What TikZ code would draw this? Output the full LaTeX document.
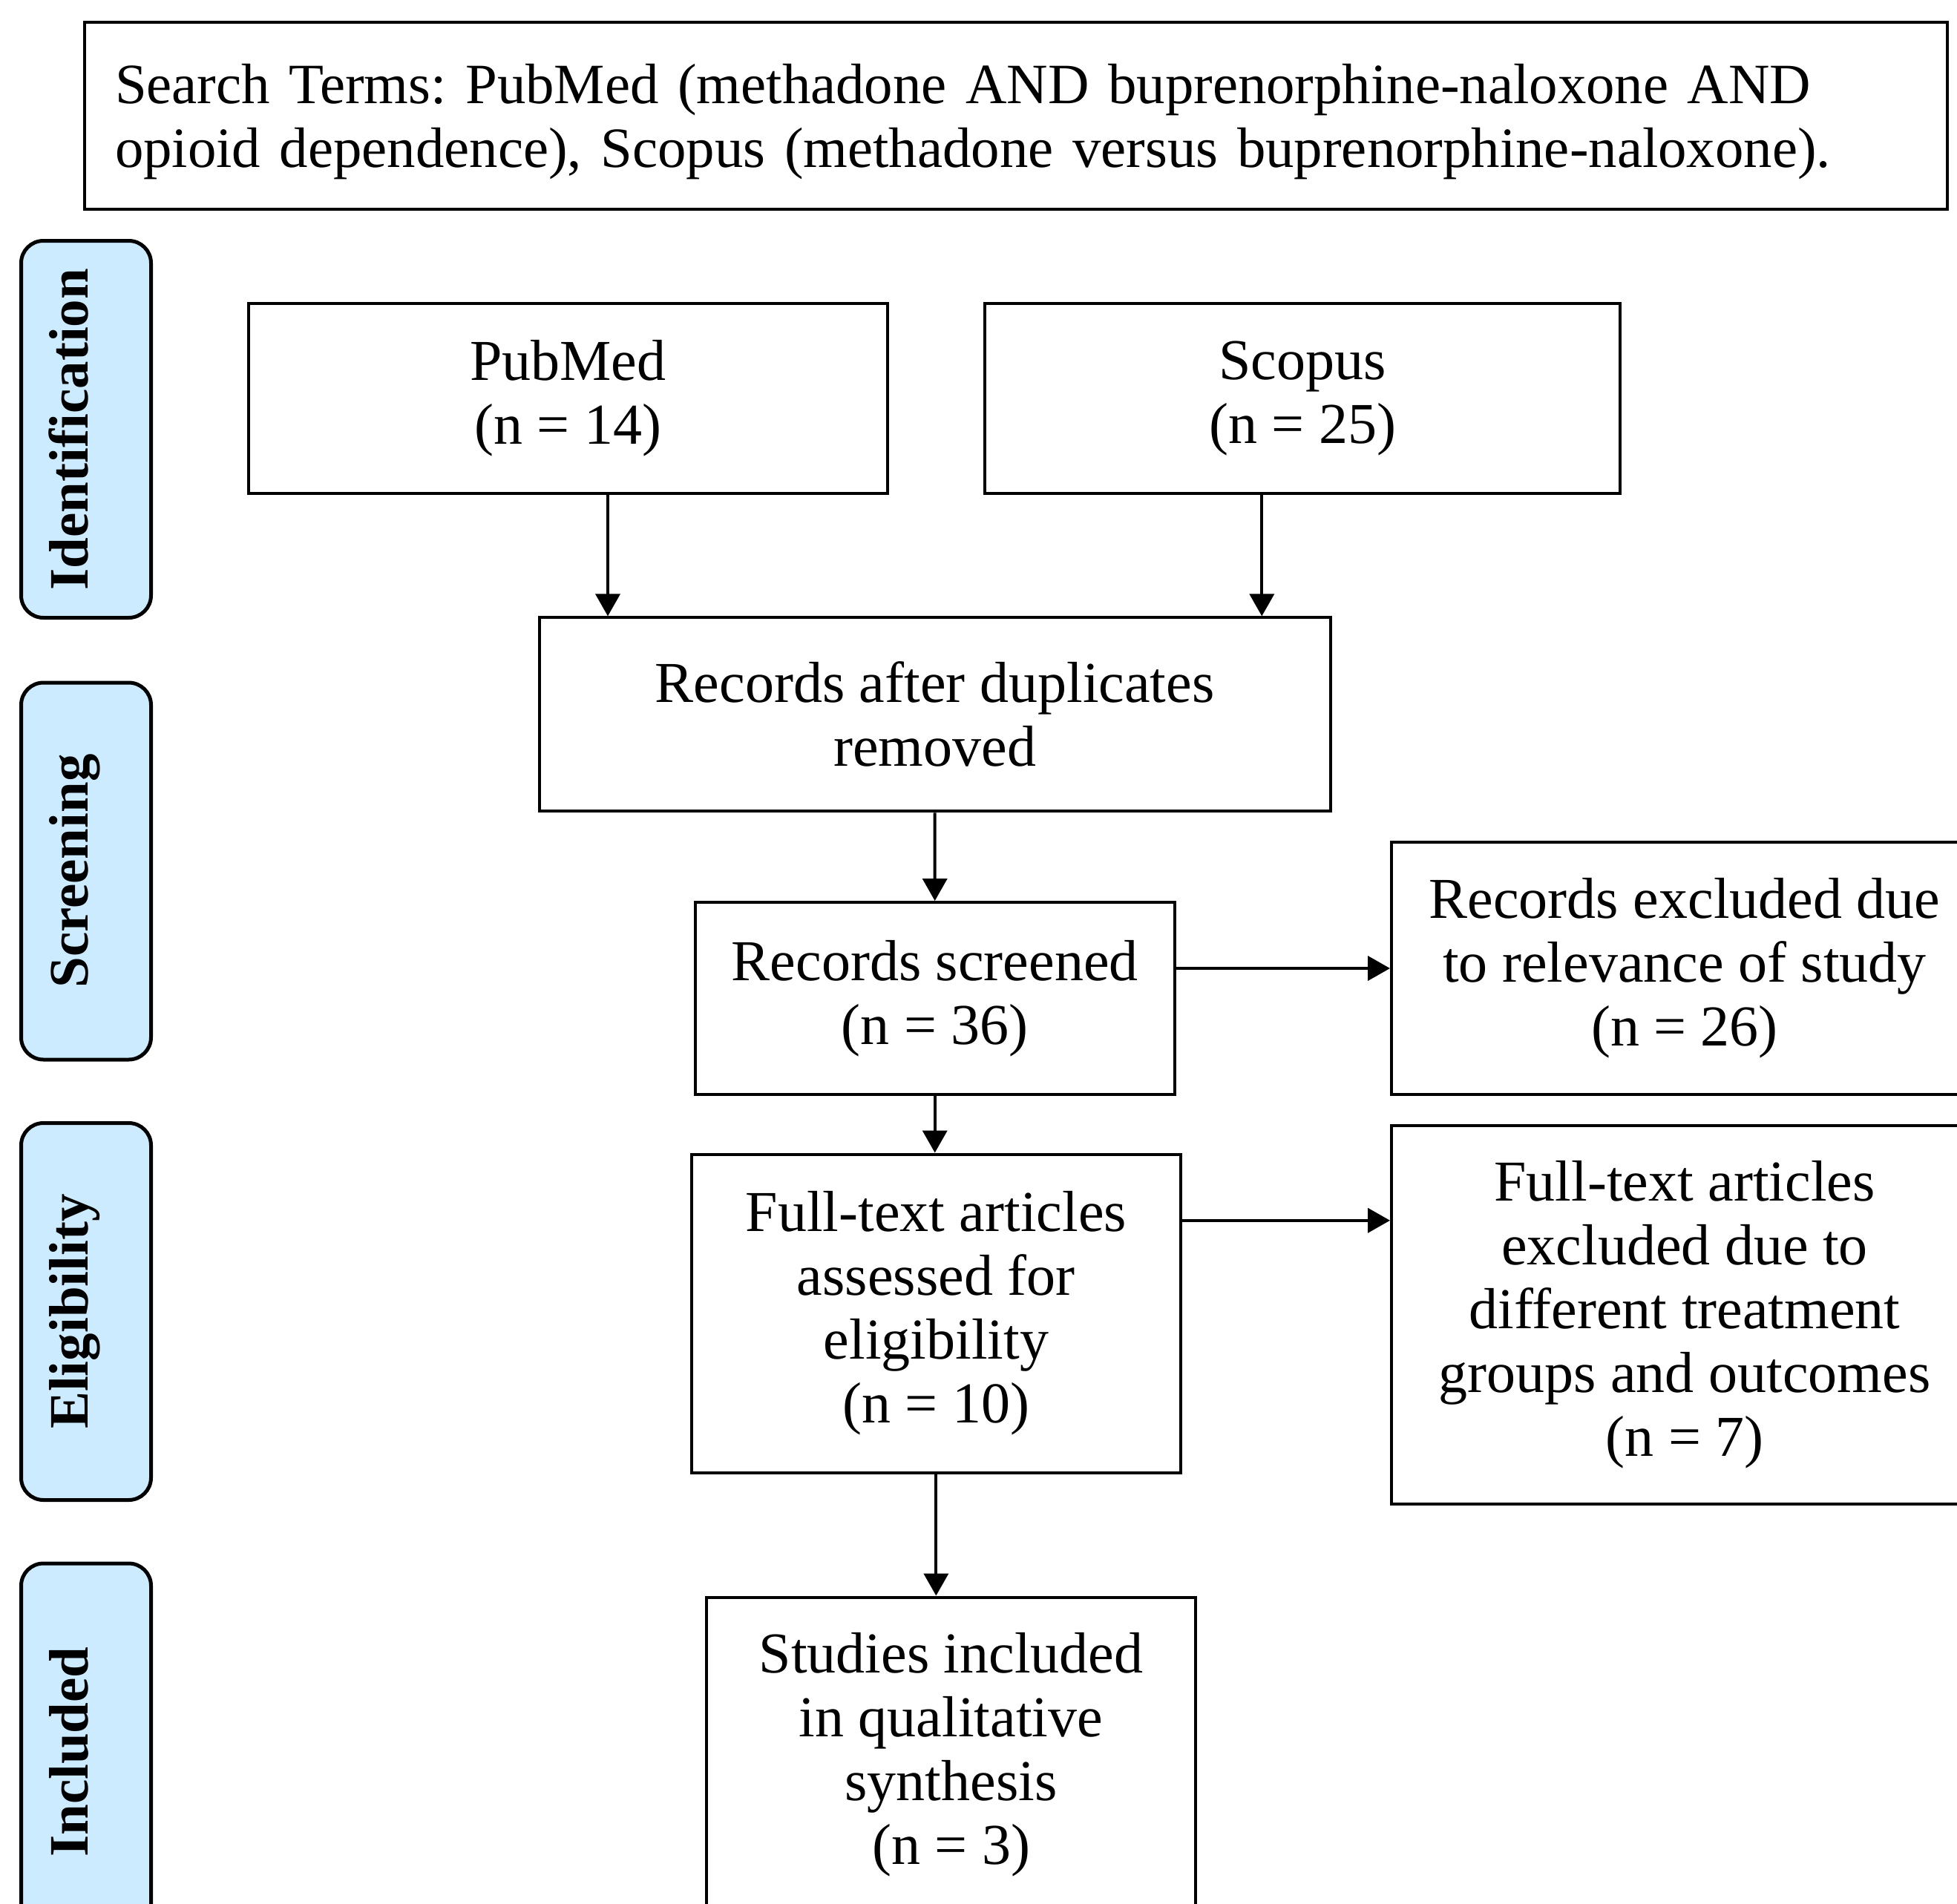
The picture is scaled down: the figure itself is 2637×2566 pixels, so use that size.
\documentclass[tikz,border=0pt]{standalone}
\usepackage{fontspec}
\setmainfont{Liberation Serif}
\usetikzlibrary{arrows.meta}
\definecolor{sideblue}{RGB}{204,235,255}
\begin{document}
\frenchspacing
\begin{tikzpicture}[x=1pt,y=-1pt,
  box/.style={draw, line width=4pt, align=center, inner sep=0pt, font=\fontsize{78}{86}\selectfont},
  side/.style={draw, line width=5pt, fill=sideblue, rounded corners=30pt, rotate=90,
    minimum width=508pt, minimum height=175pt, inner sep=0pt, text height=52pt, text depth=48pt,
    font=\fontsize{75}{86}\selectfont\bfseries},
  arr/.style={line width=4pt, -{Triangle[length=30pt,width=33pt]}}]
\useasboundingbox (0,0) rectangle (2637,2566);
\clip (0,0) rectangle (2637,2566);
% search terms
\node[box, align=left, minimum width=2510pt, minimum height=251pt, text width=2428pt,
  font=\fontsize{76.8}{86}\selectfont] (terms) at (1369,156)
  {\rule{0pt}{70pt}Search Terms: PubMed (methadone AND buprenorphine-naloxone AND\\opioid dependence), Scopus (methadone versus buprenorphine-naloxone).};
% side labels
\node[side] (lid) at (116,578.5) {Identification};
\node[side] (lsc) at (116,1174) {Screening};
\node[side] (lel) at (116,1767.5) {Eligibility};
\node[side] (lin) at (116,2361) {Included};
% boxes
\node[box, minimum width=861pt, minimum height=256pt] (pubmed) at (765.25,536.5) {PubMed\\(n = 14)};
\node[box, minimum width=856pt, minimum height=256pt] (scopus) at (1755,536.5) {Scopus\\(n = 25)};
\node[box, minimum width=1066pt, minimum height=261pt] (dup) at (1259.65,962.85) {Records after duplicates\\removed};
\node[box, minimum width=646pt, minimum height=259pt] (screened) at (1259.7,1345.5) {Records screened\\(n = 36)};
\node[box, minimum width=790pt, minimum height=340pt] (excl1) at (2270,1305) {Records excluded due\\to relevance of study\\(n = 26)};
\node[box, minimum width=659pt, minimum height=429pt] (full) at (1261.35,1770) {Full-text articles\\assessed for\\eligibility\\(n = 10)};
\node[box, minimum width=790pt, minimum height=510pt] (excl2) at (2270,1771.8) {Full-text articles\\excluded due to\\different treatment\\groups and outcomes\\(n = 7)};
\node[box, minimum width=659pt, minimum height=425pt] (studies) at (1281.55,2365) {Studies included\\in qualitative\\synthesis\\(n = 3)};
% connector anchors
\coordinate (ap) at (819,0);
\coordinate (as) at (1700.3,0);
\coordinate (af) at (0,1644.8);
% connectors
\draw[arr] (pubmed.south -| ap) -- (dup.north -| ap);
\draw[arr] (scopus.south -| as) -- (dup.north -| as);
\draw[arr] (dup.south) -- (screened.north);
\draw[arr] (screened.east |- excl1.west) -- (excl1.west);
\draw[arr] (screened.south) -- (screened.south |- full.north);
\draw[arr] (full.east |- af) -- (excl2.west |- af);
\draw[arr] (full.south) -- (full.south |- studies.north);
\end{tikzpicture}
\end{document}
